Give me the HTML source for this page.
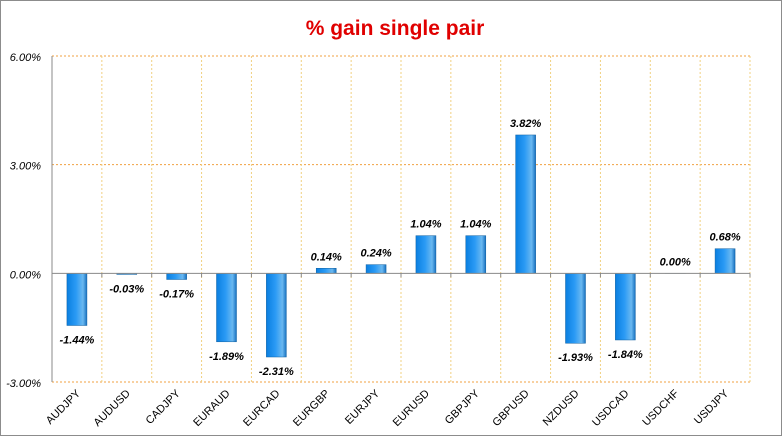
<!DOCTYPE html>
<html><head><meta charset="utf-8"><style>
body{margin:0;background:#fff}
svg{display:block;font-family:"Liberation Sans",sans-serif}
</style></head><body>
<svg id="c" width="782" height="436">
<defs><linearGradient id="g" x1="0" x2="1" y1="0" y2="0">
<stop offset="0" stop-color="#0a7fe0"/><stop offset="0.45" stop-color="#2a9af5"/><stop offset="0.8" stop-color="#6ab8f0"/><stop offset="1" stop-color="#1670c0"/></linearGradient></defs>
<rect x="0.5" y="0.5" width="781" height="435" fill="#fff" stroke="#8c8c8c"/>
<text x="395" y="35" text-anchor="middle" font-size="21" font-weight="bold" fill="#e00000">% gain single pair</text>
</svg>
<script>
const categories=["AUDJPY","AUDUSD","CADJPY","EURAUD","EURCAD","EURGBP","EURJPY","EURUSD","GBPJPY","GBPUSD","NZDUSD","USDCAD","USDCHF","USDJPY"];
const values=[-1.44,-0.03,-0.17,-1.89,-2.31,0.14,0.24,1.04,1.04,3.82,-1.93,-1.84,0.00,0.68];
const yTicks=[6,3,0,-3];
const tickLabels=["6.00%","3.00%","0.00%","-3.00%"];
const svg=document.getElementById('c'),NS="http://www.w3.org/2000/svg";
const L=52,R=750,T=56,B=382,yMin=-3,yMax=6;
const y=v=>T+(yMax-v)/(yMax-yMin)*(B-T);
const cw=(R-L)/categories.length;
const x=i=>L+cw*(i+0.5);
function mk(t,a){const e=document.createElementNS(NS,t);for(const k in a)e.setAttribute(k,a[k]);svg.appendChild(e);return e;}
yTicks.forEach((t,i)=>{
 if(t!==0){const g=mk('line',{x1:L,x2:R,y1:y(t),y2:y(t),stroke:'#f0a040','stroke-dasharray':'2,2'});
 
 }
 const tx=mk('text',{x:L-11,y:y(t)+5,'text-anchor':'end','font-size':11,'font-style':'italic',fill:'#000'});
 tx.textContent=tickLabels[i];
 
 
});
for(let i=1;i<=categories.length;i++){
 const g=mk('line',{x1:L+cw*i,x2:L+cw*i,y1:T,y2:B,stroke:'#f0d080','stroke-dasharray':'2,2'});
 
 
}
const ax=mk('line',{x1:L,x2:L,y1:T,y2:B,stroke:'#888'});


categories.forEach((c,i)=>{
 const v=values[i],y0=y(0),yv=y(v),top=Math.min(y0,yv),h=Math.abs(yv-y0);
 const b=mk('rect',{x:x(i)-10,y:top,width:20,height:Math.max(h,0.01),fill:'url(#g)',stroke:'#1060a0','stroke-width':0.5});
 
 
 const ly=v>=0?yv-8:yv+18;
 const lb=mk('text',{x:x(i),y:ly,'text-anchor':'middle','font-size':11,'font-weight':'bold','font-style':'italic',fill:'#000'});
 lb.textContent=v.toFixed(2)+'%';
 
 
 const cl=mk('text',{x:x(i)+4,y:B+12,'text-anchor':'end','font-size':11,fill:'#000',transform:`rotate(-45 ${x(i)+4} ${B+12})`});
 cl.textContent=c;
 
 
});
const z=mk('line',{x1:L,x2:R,y1:y(0),y2:y(0),stroke:'#888'});


for(let i=0;i<=categories.length;i++){const t=mk('line',{x1:L+cw*i,x2:L+cw*i,y1:y(0),y2:y(0)+4,stroke:'#888'});
 
 }
</script>
</body></html>
